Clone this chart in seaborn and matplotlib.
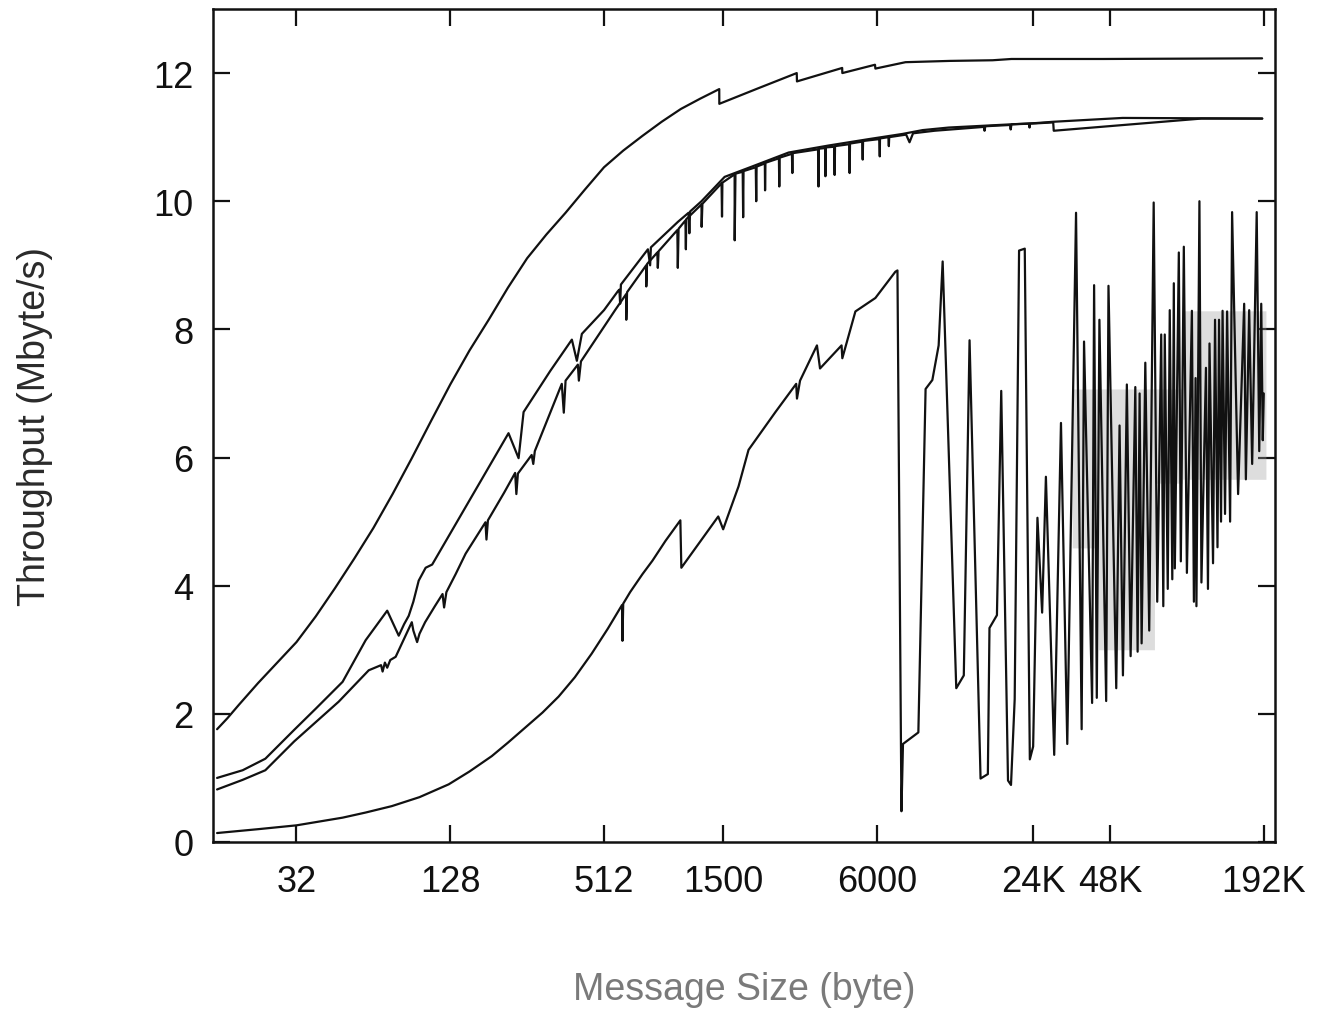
import numpy as np
import pandas as pd
import matplotlib
matplotlib.use("Agg")
import matplotlib.pyplot as plt
import seaborn as sns


# ============================================================
# Data (x stored as log2 of message size in bytes)
# ============================================================
TICK_SIZES = [32, 128, 512, 1500, 6000, 24576, 49152, 196608]
TICK_LABELS = ["32", "128", "512", "1500", "6000", "24K", "48K", "192K"]
Y_TICKS = [0, 2, 4, 6, 8, 10, 12]

# top curve
top_log2 = [3.967, 4.1, 4.25, 4.5, 4.75, 5.0, 5.25, 5.5, 5.75, 6.0, 6.25, 6.5, 6.75,
            7.0, 7.25, 7.5, 7.75, 8.0, 8.25, 8.5, 8.75, 9.0, 9.25, 9.5, 9.75,
            10.0, 10.25, 10.499, 10.5, 11.0, 11.507, 11.51, 12.098, 12.1, 12.525,
            12.53, 12.922, 13.5, 14.054, 14.3, 15.5, 17.56]
top_mbs = [1.76, 1.93, 2.14, 2.48, 2.8, 3.12, 3.52, 3.96, 4.42, 4.9, 5.43, 5.99, 6.57,
           7.14, 7.67, 8.15, 8.65, 9.11, 9.48, 9.82, 10.18, 10.53, 10.79, 11.02, 11.24,
           11.44, 11.6, 11.75, 11.52, 11.76, 12.0, 11.87, 12.08, 12.0, 12.13,
           12.07, 12.17, 12.19, 12.2, 12.22, 12.22, 12.23]

# upper middle curve
mid1_log2 = [3.967, 4.3, 4.595, 4.97, 5.25, 5.6, 5.9, 6.18, 6.33, 6.4, 6.46,
             6.52, 6.59, 6.68, 6.765, 7.758, 7.889, 7.954, 8.3, 8.582, 8.647, 8.712,
             9.0, 9.183, 9.2, 9.21, 9.22, 9.571, 9.6, 9.61, 9.963, 10.1, 10.11, 10.12,
             10.268, 10.569, 10.922, 11.401, 11.924, 12.447, 12.882, 13.144, 13.484,
             14.621, 14.843, 15.745, 17.562]
mid1_mbs = [1.0, 1.12, 1.3, 1.75, 2.08, 2.5, 3.15, 3.61, 3.22, 3.40, 3.53,
            3.75, 4.08, 4.28, 4.33, 6.38, 5.99, 6.71, 7.35, 7.84, 7.51, 7.93,
            8.3, 8.6, 8.62, 8.4, 8.7, 9.25, 9.0, 9.28, 9.68, 9.82, 9.5, 9.84,
            10.0, 10.38, 10.54, 10.76, 10.87, 10.97, 11.05, 11.11, 11.15,
            11.22, 11.24, 11.30, 11.29]

# lower middle curve
mid2_log2 = [3.967, 4.3, 4.595, 4.97, 5.25, 5.549, 5.94, 6.10, 6.12, 6.15, 6.18, 6.22,
             6.29, 6.5, 6.52, 6.569, 6.6, 6.673, 6.8, 6.9, 6.92, 6.95, 7.07, 7.2, 7.458,
             7.471, 7.49, 7.7, 7.844, 7.86, 7.88, 8.059, 8.08, 8.1, 8.451, 8.477, 8.5,
             8.66, 8.673, 8.7, 9.144, 9.288, 9.29, 9.3, 9.549, 9.55, 9.56, 9.693, 9.7,
             9.71, 9.954, 9.96, 9.97, 10.059, 10.065, 10.07, 10.268, 10.27, 10.28,
             10.529, 10.535, 10.54, 10.699, 10.7, 10.71, 10.804, 10.81, 10.815,
             10.974, 10.98, 10.985, 11.092, 11.095, 11.1, 11.275, 11.28, 11.285,
             11.444, 11.45, 11.455, 11.784, 11.79, 11.795, 11.876, 11.88, 11.885,
             11.993, 12.0, 12.005, 12.19, 12.195, 12.2, 12.359, 12.365, 12.37,
             12.582, 12.587, 12.59, 12.699, 12.705, 12.71, 12.93, 12.974, 13.02,
             13.3, 13.941, 13.95, 13.96, 14.281, 14.29, 14.3, 14.529, 14.535, 14.54,
             14.843, 14.85, 16.77, 17.562]
mid2_mbs = [0.82, 0.97, 1.12, 1.57, 1.87, 2.19, 2.68, 2.76, 2.66, 2.80, 2.72, 2.84,
            2.89, 3.43, 3.3, 3.12, 3.25, 3.43, 3.68, 3.87, 3.66, 3.9, 4.18, 4.5, 4.99,
            4.72, 5.02, 5.45, 5.76, 5.43, 5.75, 6.04, 5.9, 6.1, 7.15, 6.70, 7.2,
            7.45, 7.2, 7.5, 8.3, 8.55, 8.15, 8.58, 9.0, 8.67, 9.02, 9.2, 8.96,
            9.22, 9.55, 8.96, 9.57, 9.7, 9.25, 9.72, 9.95, 9.6, 9.96,
            10.28, 9.76, 10.29, 10.42, 9.39, 10.43, 10.46, 9.75, 10.47,
            10.53, 10.0, 10.54, 10.59, 10.17, 10.6, 10.67, 10.23, 10.68,
            10.74, 10.44, 10.75, 10.81, 10.23, 10.82, 10.83, 10.39, 10.84,
            10.85, 10.41, 10.86, 10.89, 10.44, 10.9, 10.93, 10.65, 10.94,
            10.97, 10.7, 10.98, 11.0, 10.86, 11.0, 11.04, 10.92, 11.06,
            11.1, 11.16, 11.1, 11.17, 11.19, 11.12, 11.2, 11.21, 11.15, 11.21,
            11.23, 11.1, 11.29, 11.29]

# bottom curve
low_log2 = [3.967, 4.5, 5.0, 5.3, 5.6, 5.9, 6.24, 6.6, 6.98, 7.25, 7.54, 7.75, 7.97,
            8.2, 8.41, 8.62, 8.84, 9.05, 9.235, 9.24, 9.25, 9.34, 9.5, 9.63, 9.8,
            9.993, 10.006, 10.486, 10.55, 10.6, 10.75, 10.88, 11.23,
            11.5, 11.51, 11.55, 11.77, 11.81, 12.09, 12.1, 12.27, 12.53, 12.79, 12.817,
            12.869, 12.889, 13.089, 13.183, 13.271, 13.353, 13.405, 13.582, 13.68,
            13.755, 13.898, 13.993, 14.014, 14.111, 14.167, 14.255, 14.294, 14.342,
            14.399, 14.473, 14.539, 14.582, 14.638, 14.699, 14.748, 14.856, 14.944,
            15.026, 15.14, 15.213, 15.244, 15.349, 15.375, 15.41, 15.444, 15.532,
            15.562, 15.663, 15.706, 15.75, 15.801, 15.85, 15.911, 15.941, 15.967,
            15.993, 16.041, 16.092, 16.15, 16.196, 16.248, 16.275, 16.294, 16.333,
            16.359, 16.392, 16.412, 16.425, 16.477, 16.503, 16.542, 16.582, 16.647,
            16.673, 16.695, 16.706, 16.745, 16.771, 16.83, 16.856, 16.876, 16.922,
            16.948, 16.98, 17.0, 17.026, 17.046, 17.078, 17.105, 17.144, 17.17,
            17.248, 17.327, 17.349, 17.392, 17.431, 17.49, 17.523, 17.549, 17.569,
            17.582]
low_mbs = [0.14, 0.2, 0.26, 0.32, 0.38, 0.46, 0.56, 0.7, 0.9, 1.1, 1.34, 1.55, 1.78,
           2.02, 2.27, 2.57, 2.94, 3.33, 3.7, 3.14, 3.72, 3.9, 4.18, 4.39, 4.7,
           5.02, 4.28, 5.08, 4.88, 5.05, 5.55, 6.12, 6.71,
           7.15, 6.92, 7.2, 7.75, 7.39, 7.75, 7.55, 8.28, 8.49, 8.9, 8.92,
           0.48, 1.53, 1.71, 7.07, 7.21, 7.75, 9.06, 2.40, 2.6,
           7.83, 0.99, 1.06, 3.34, 3.54, 7.04, 0.96, 0.89, 2.23,
           9.23, 9.26, 1.29, 1.49, 5.06, 3.58, 5.7, 1.36, 6.54,
           1.53, 9.82, 1.76, 7.81, 2.17, 8.69, 2.25, 8.15, 2.2,
           8.68, 2.4, 6.5, 2.6, 7.14, 2.9, 7.1, 2.97, 7.0,
           3.1, 7.48, 3.3, 9.98, 3.75, 7.92, 3.68, 7.92, 3.95,
           8.3, 4.1, 8.72, 4.27, 9.2, 4.38, 9.29, 4.2, 8.29,
           3.75, 7.24, 3.68, 10.0, 4.05, 7.4, 3.95, 7.78, 4.35,
           8.15, 4.6, 8.15, 5.0, 8.29, 5.12, 8.28, 5.0, 9.83,
           5.43, 8.4, 5.66, 8.3, 5.9, 9.83, 6.1, 8.4, 6.27,
           7.0]

# grey smear of overlapping lines in the scanned original
shade_log2 = [15.09, 15.43, 15.431, 16.16, 16.161, 16.52, 16.521, 17.61]
shade_lo = [4.59, 4.59, 3.0, 3.0, 5.6, 5.6, 5.66, 5.66]
shade_hi = [7.07, 7.07, 7.07, 7.07, 7.07, 7.07, 8.29, 8.29]


# ============================================================
# Plot
# ============================================================
sns.set_theme(style="ticks")
plt.rcParams["font.family"] = ["Liberation Sans", "DejaVu Sans"]

series = {
    "top": (top_log2, top_mbs),
    "mid1": (mid1_log2, mid1_mbs),
    "mid2": (mid2_log2, mid2_mbs),
    "low": (low_log2, low_mbs),
}

fig = plt.figure(figsize=(13.28, 10.12), dpi=100)
ax = fig.add_axes([213 / 1328, 1 - 843 / 1012, (1275 - 213) / 1328, (843 - 10) / 1012])

ax.fill_between(2.0 ** np.array(shade_log2), shade_lo, shade_hi,
                color="#a0a0a0", alpha=0.35, linewidth=0, zorder=1)

for name, (xs, ys) in series.items():
    df = pd.DataFrame({"size": 2.0 ** np.array(xs), "mbs": ys})
    sns.lineplot(data=df, x="size", y="mbs", ax=ax, color="#111111",
                 linewidth=1.6, sort=False, estimator=None, zorder=3)

ax.set_xscale("log", base=2)
ax.set_xlim(2 ** 3.914, 2 ** 17.728)
ax.set_ylim(0, 13)
ax.set_xticks(TICK_SIZES)
ax.set_xticklabels(TICK_LABELS)
ax.xaxis.set_minor_locator(matplotlib.ticker.NullLocator())
ax.set_yticks(Y_TICKS)
ax.set_yticklabels([str(v) for v in Y_TICKS])

ax.tick_params(axis="both", direction="in", length=12, width=1.6,
               top=True, right=True, labelsize=26, colors="#111111")
ax.tick_params(axis="x", pad=16)
ax.tick_params(axis="y", pad=14)
for sp in ax.spines.values():
    sp.set_linewidth(1.8)
    sp.set_color("#111111")
    sp.set_visible(True)

ax.set_xlabel("Message Size (byte)", fontsize=27, color="#7a7a7a", labelpad=52)
ax.set_ylabel("Throughput (Mbyte/s)", fontsize=27, color="#2a2a2a", labelpad=72)

fig.savefig("out.png", dpi=100)
